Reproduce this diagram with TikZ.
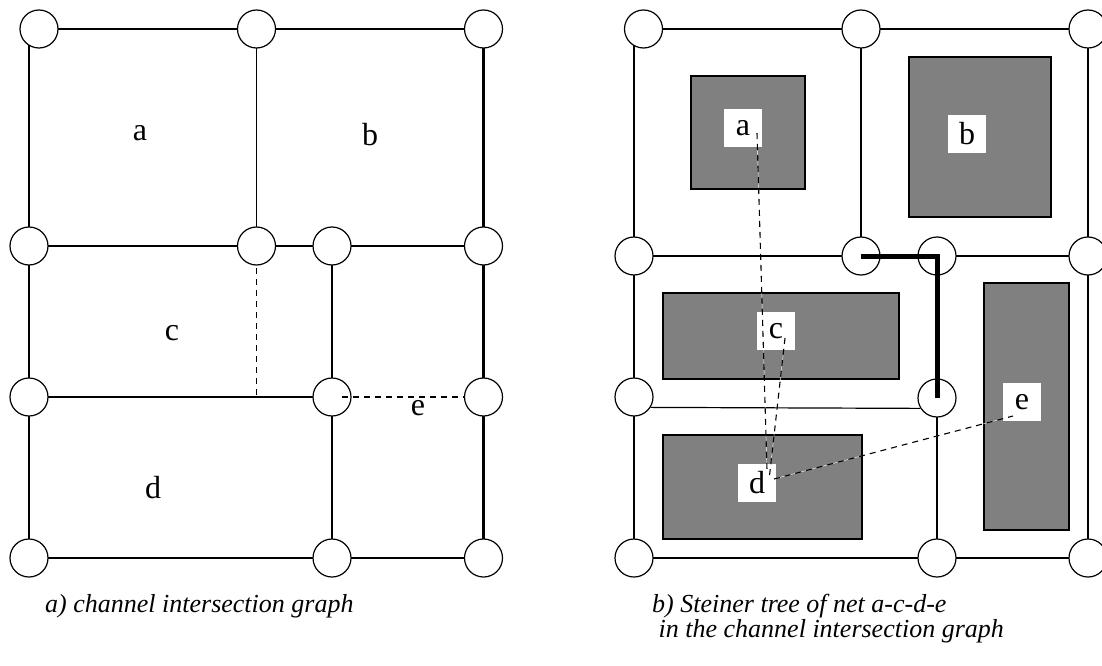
\documentclass[tikz,border=0pt]{standalone}
\usepackage{fontspec}
\setmainfont{Liberation Serif}
\usetikzlibrary{backgrounds}

\tikzset{
  junction/.style={circle, draw, fill=white, minimum size=38pt, inner sep=0pt, line width=1.2pt},
  border/.style={line width=2.6pt},
  channel/.style={line width=1.2pt},
  block/.style={fill=black!50, draw=black, line width=1.2pt},
  pinlabel/.style={fill=white, minimum size=38pt, inner sep=0pt, font=\fontsize{32}{36}\selectfont},
  celllabel/.style={font=\fontsize{32}{36}\selectfont},
  netline/.style={line width=1.1pt, dash pattern=on 6pt off 5pt, preaction={draw=white, solid}},
  caption/.style={anchor=base west, inner sep=0pt, font=\fontsize{26}{30}\selectfont\itshape}
}

\begin{document}
\begin{tikzpicture}[x=1pt, y=-1pt]
  \useasboundingbox (0,0) rectangle (1102,666);

  % Left: channel intersection graph
  \coordinate (c00) at (29,29);
  \node[junction] (L00) at (39,29) {};
  \node[junction] (L01) at (256.5,29) {};
  \node[junction] (L02) at (483.5,29) {};
  \node[junction] (L10) at (29,246) {};
  \node[junction] (L11) at (256.5,246) {};
  \node[junction] (L12) at (332,246) {};
  \node[junction] (L13) at (483.5,246) {};
  \node[junction] (L20) at (29,397) {};
  \node[junction] (L21) at (332,397) {};
  \node[junction] (L22) at (483.5,397) {};
  \node[junction] (L30) at (29,558) {};
  \node[junction] (L31) at (332,558) {};
  \node[junction] (L32) at (483.5,558) {};
  \coordinate (Ld) at (256.5,397);

  \begin{pgfonlayer}{background}
    % Draw border
    \draw[border] (c00) -- (L02.center) -- (L13.center) -- (L22.center) -- (L32.center)
      -- (L31.center) -- (L30.center) -- (L20.center) -- (L10.center) -- (c00);
    % Draw channels
    \draw[channel] (L01.center) -- (L11.center);
    \draw[channel] (L10.center) -- (L11.center) -- (L12.center) -- (L13.center);
    \draw[channel] (L20.center) -- (Ld) -- (L21.center);
    \draw[channel] (L12.center) -- (L21.center) -- (L31.center);
    \draw[channel, dash pattern=on 6pt off 5pt] (L11.center) -- (Ld);
  \end{pgfonlayer}
  \draw[channel, dash pattern=on 6pt off 5pt] ([xshift=10pt]L21.center) -- (L22.west);

  \node[celllabel] (ta) at (140,133) {a};
  \node[celllabel] (tb) at (370,135) {b};
  \node[celllabel] (tc) at (172,333) {c};
  \node[celllabel] (td) at (153,488) {d};
  \node[celllabel] (te) at (418,408) {e};

  % Right: Steiner tree
  \coordinate (r00) at (634,29);
  \node[junction] (R00) at (643.5,29) {};
  \node[junction] (R01) at (861,29) {};
  \node[junction] (R02) at (1088,29) {};
  \node[junction] (R10) at (634,256) {};
  \node[junction] (R11) at (861,256) {};
  \node[junction] (R12) at (937,256) {};
  \node[junction] (R13) at (1088,256) {};
  \node[junction] (R20) at (634,397) {};
  \node[junction] (R21) at (937,398) {};
  \node[junction] (R30) at (634,558) {};
  \node[junction] (R31) at (937,558) {};
  \node[junction] (R32) at (1088,558) {};

  \begin{pgfonlayer}{background}
    % Draw border
    \draw[border] (r00) -- (R02.center) -- (R13.center) -- (R32.center) -- (R31.center)
      -- (R30.center) -- (R20.center) -- (R10.center) -- (r00);
    % Draw channels
    \draw[channel] (R01.center) -- (R11.center);
    \draw[channel] (R10.center) -- (R11.center) -- (R12.center) -- (R13.center);
    \draw[channel] (R20.-32) -- (R21.-148);
    \draw[channel] (R12.center) -- (R21.center) -- (R31.center);

    % Draw blocks
    \draw[block] (691,76) rectangle (805,189);
    \draw[block] (909,57) rectangle (1051,217);
    \draw[block] (663,293) rectangle (899,379);
    \draw[block] (663,435) rectangle (862,539);
    \draw[block] (984,283) rectangle (1069,530);
  \end{pgfonlayer}

  % Draw Steiner tree
  \draw[line width=5pt, line cap=butt, line join=miter] (R11.center) -- (R12.center) -- (R21.center);

  % Draw pins of net a-c-d-e
  \node[pinlabel] (pa) at (743,128) {a};
  \node[pinlabel] (pb) at (967,134) {b};
  \node[pinlabel] (pc) at (776,331) {c};
  \node[pinlabel] (pd) at (757,483) {d};
  \node[pinlabel] (pe) at (1022,402) {e};

  \coordinate (na) at (757,133);
  \coordinate (nc) at (785,338);
  \coordinate (nd1) at (767,470);
  \coordinate (nd2) at (769,480);
  \coordinate (nd3) at (774,479);
  \coordinate (ne) at (1013,416);
  \draw[netline] (na) -- (nd1);
  \draw[netline] (nc) -- (nd2);
  \draw[netline] (nd3) -- (ne);

  % Captions
  \node[caption] (capa) at (45,612) {a) channel intersection graph};
  \node[caption] (capb) at (652,612) {b) Steiner tree of net a-c-d-e};
  \node[caption] (capc) at (652,637) {\ in the channel intersection graph};
\end{tikzpicture}
\end{document}
